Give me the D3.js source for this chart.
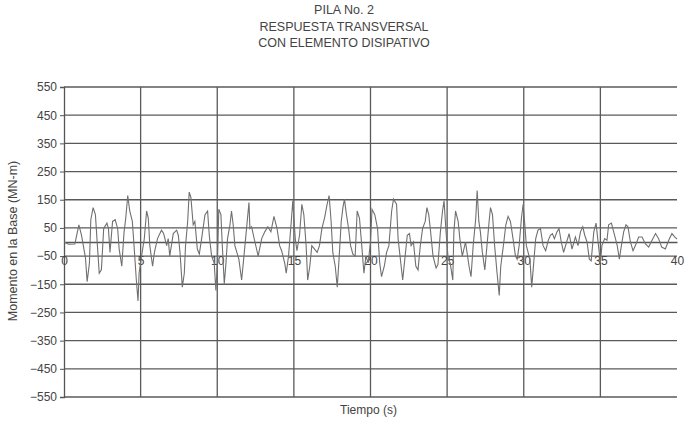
<!DOCTYPE html>
<html><head><meta charset="utf-8">
<script src="https://cdn.jsdelivr.net/npm/d3@7"></script>
<style>
body{margin:0;background:#fff;}
text{font-family:"Liberation Sans",Arial,sans-serif;fill:#444;}
</style></head>
<body><svg id="c" width="694" height="428"></svg>
<script>
const titleLines = ["PILA No. 2","RESPUESTA TRANSVERSAL","CON ELEMENTO DISIPATIVO"];
const yTicks = [550,450,350,250,150,50,-50,-150,-250,-350,-450,-550];
const xTicks = [0,5,10,15,20,25,30,35,40];
const time = [0,0.3,0.71,0.97,1.14,1.4,1.51,1.66,1.75,1.9,2.05,2.18,2.3,2.44,2.59,2.8,2.9,3.0,3.17,3.34,3.5,3.6,3.77,3.92,4.03,4.16,4.29,4.46,4.6,4.72,4.83,4.9,5.06,5.24,5.39,5.5,5.6,5.78,5.9,6.1,6.36,6.5,6.7,6.8,6.9,7.13,7.35,7.46,7.57,7.72,7.85,7.93,8.07,8.17,8.28,8.43,8.54,8.7,8.83,8.98,9.2,9.37,9.48,9.63,9.8,9.91,10.02,10.1,10.24,10.33,10.46,10.57,10.67,10.83,10.93,11.04,11.15,11.41,11.59,11.7,11.85,12.07,12.13,12.24,12.46,12.67,12.9,13.1,13.3,13.5,13.7,13.9,14.07,14.2,14.4,14.5,14.65,14.83,14.93,15.09,15.2,15.37,15.52,15.65,15.8,15.9,16.04,16.17,16.35,16.52,16.67,16.83,17.0,17.17,17.3,17.43,17.54,17.7,17.83,17.96,18.09,18.2,18.3,18.43,18.57,18.7,18.85,19.0,19.13,19.28,19.43,19.57,19.7,19.85,20.0,20.1,20.28,20.46,20.6,20.72,20.9,21.05,21.2,21.38,21.5,21.7,21.8,22.0,22.1,22.26,22.4,22.54,22.65,22.8,22.96,23.1,23.25,23.4,23.57,23.68,23.8,23.9,24.08,24.28,24.4,24.56,24.7,24.8,24.93,25.07,25.2,25.37,25.44,25.55,25.72,25.83,25.99,26.2,26.43,26.56,26.7,26.87,26.96,27.07,27.17,27.3,27.46,27.6,27.74,27.83,27.96,28.1,28.26,28.4,28.5,28.7,28.83,28.98,29.13,29.3,29.46,29.57,29.7,29.85,29.96,30.07,30.17,30.4,30.52,30.65,30.78,30.93,31.09,31.26,31.43,31.6,31.74,31.87,32.0,32.17,32.3,32.45,32.6,32.8,32.96,33.15,33.37,33.54,33.7,33.85,33.98,34.13,34.28,34.4,34.57,34.72,34.85,35.0,35.1,35.28,35.43,35.54,35.72,35.87,36.1,36.24,36.37,36.52,36.67,36.8,36.96,37.13,37.28,37.5,37.72,37.93,38.15,38.37,38.6,38.8,39.0,39.24,39.46,39.67,39.85,40.0];
const moment = [0,-8,-7,61,24,-56,-141,-74,79,122,97,-13,-111,-99,48,67,48,-37,73,79,48,-25,-86,36,85,165,110,73,-37,-135,-209,-111,-50,12,110,85,-13,-86,-37,12,42,30,-13,12,-50,30,42,24,-37,-160,-111,-13,73,177,158,61,73,-25,-43,12,97,110,24,-50,-74,-172,-61,116,97,-13,-148,-74,12,61,110,61,-13,-61,-135,-74,12,140,48,54,0,-50,12,36,54,36,91,48,-13,-31,-74,-111,-50,73,146,12,-31,24,134,97,-13,-135,-86,-13,-25,-37,-13,48,85,134,165,73,-37,-86,-160,-50,73,122,152,97,48,-13,-43,-50,110,85,-13,-111,-50,-74,0,116,97,48,-74,-123,-86,-37,-13,110,152,134,12,-86,-135,-50,24,30,-13,0,-86,-99,-13,48,73,122,97,48,-50,-92,-80,36,110,146,36,-61,-74,-135,36,110,73,12,-50,0,-86,-123,-13,85,183,73,36,-37,-99,-13,73,122,97,-13,-111,-190,-86,0,61,91,73,12,-50,-61,-13,85,134,61,-13,-61,-160,-74,12,42,48,-13,-31,6,24,30,12,36,48,0,-37,0,30,-25,18,-13,36,54,24,0,-61,-67,36,67,0,-74,-13,12,6,61,67,36,-13,-61,-13,36,61,54,0,-31,-13,18,18,-6,-18,6,30,12,-18,-25,6,30,18,10];

const svg = d3.select("#c");
const x = d3.scaleLinear().domain([0,40]).range([64,677]);
const y = d3.scaleLinear().domain([-550,550]).range([397,87]);
const FONT = "Liberation Sans, Arial, sans-serif";

// title
svg.append("g").selectAll("text").data(titleLines).join("text")
  .attr("x",344).attr("y",(d,i)=>14+i*16.5).attr("text-anchor","middle")
  .attr("font-size",12.5).text(d=>d);

// horizontal gridlines
svg.append("g").selectAll("line").data(yTicks).join("line")
  .attr("x1",x(0)).attr("x2",x(40)).attr("y1",d=>y(d)).attr("y2",d=>y(d))
  .attr("stroke","#5a5a5a").attr("stroke-width",1.3);
// vertical gridlines
svg.append("g").selectAll("line").data(xTicks.filter(d=>d>0&&d<40)).join("line")
  .attr("x1",d=>x(d)).attr("x2",d=>x(d)).attr("y1",y(550)).attr("y2",y(-550))
  .attr("stroke","#5a5a5a").attr("stroke-width",1.3);

// y axis
const yAxis = svg.append("g").attr("transform",`translate(${x(0)},0)`)
  .call(d3.axisLeft(y).tickValues(yTicks).tickSize(4).tickPadding(3).tickFormat(d3.format("d")));
yAxis.select(".domain").attr("stroke","#555").attr("stroke-width",1.3);
yAxis.selectAll(".tick line").attr("stroke","#555");
yAxis.selectAll("text").attr("font-size",12).attr("fill","#444").attr("font-family",FONT);

// x axis at zero
const xAxis = svg.append("g").attr("transform",`translate(0,${y(0)})`)
  .call(d3.axisBottom(x).tickValues(xTicks).tickSize(0).tickPadding(14));
xAxis.select(".domain").attr("stroke","#555").attr("stroke-width",1.3);
xAxis.selectAll("text").attr("font-size",12).attr("fill","#444").attr("font-family",FONT);

// data line
const pts = time.map((t,i)=>[t,moment[i]]);
svg.append("path").datum(pts)
  .attr("d",d3.line().x(d=>x(d[0])).y(d=>y(d[1])))
  .attr("fill","none").attr("stroke","#707070").attr("stroke-width",1.1);

// axis titles
svg.append("text").attr("transform",`translate(17,${y(0)-1}) rotate(-90)`)
  .attr("text-anchor","middle").attr("font-size",12.5).text("Momento en la Base (MN-m)");
svg.append("text").attr("x",(x(0)+x(40))/2 - 2).attr("y",414)
  .attr("text-anchor","middle").attr("font-size",12).text("Tiempo (s)");
</script></body></html>
